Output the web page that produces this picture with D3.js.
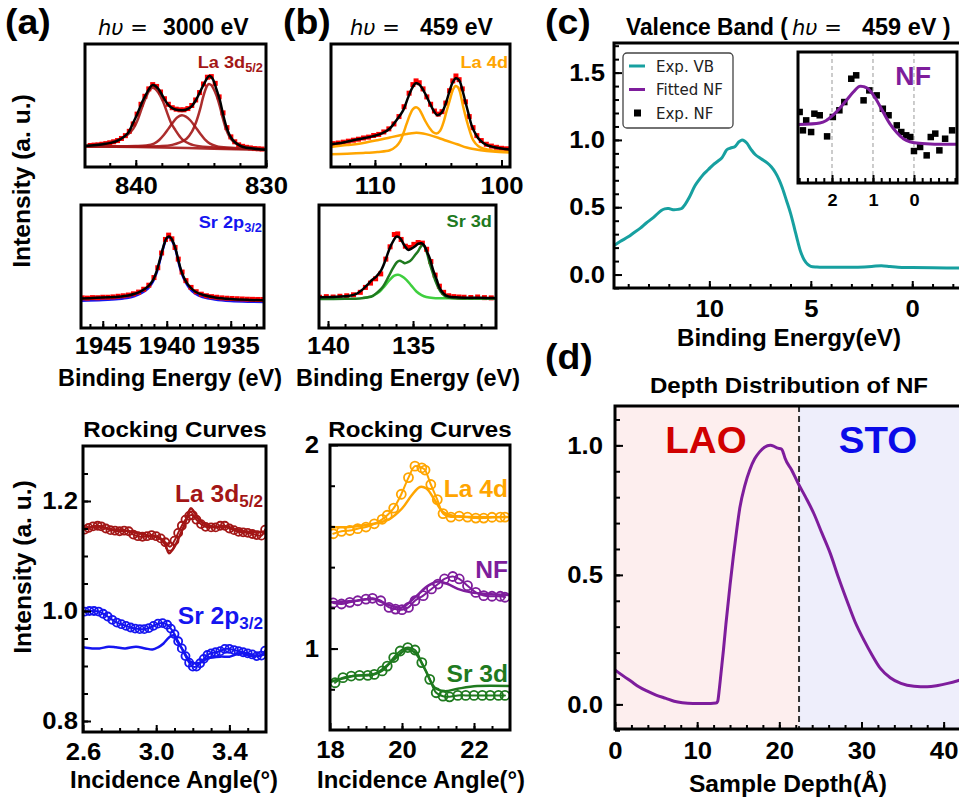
<!DOCTYPE html>
<html><head><meta charset="utf-8">
<script src="https://cdn.jsdelivr.net/npm/d3@7"></script>
<style>
body{margin:0;background:#fff}
svg{display:block}
text{font-family:"Liberation Sans",Arial,sans-serif;font-weight:bold}
</style>
</head><body>
<svg id="c" width="959" height="801"></svg>
<script>
// ---------------- DATA ----------------
// (a) La 3d5/2 (hv = 3000 eV): binding energy (eV), normalised intensity
const la3dExp = [[843.5,.175],[843.2,.178],[842.9,.18],[842.6,.185],[842.3,.19],[842.0,.197],[841.7,.205],[841.4,.215],[841.1,.232],[840.8,.255],[840.5,.29],[840.2,.35],[839.9,.43],[839.6,.51],[839.3,.575],[839.0,.635],[838.7,.67],[838.4,.655],[838.1,.61],[837.8,.555],[837.5,.51],[837.2,.482],[836.9,.47],[836.6,.465],[836.3,.465],[836.0,.475],[835.7,.5],[835.4,.545],[835.1,.605],[834.8,.675],[834.5,.73],[834.2,.735],[833.9,.68],[833.6,.57],[833.3,.44],[833.0,.32],[832.7,.245],[832.4,.205],[832.1,.18],[831.8,.168],[831.5,.16],[831.2,.155],[830.9,.15],[830.6,.148],[830.3,.146]];
const la3dFit = [[843.9,.17],[841.9,.196],[841.2,.225],[840.63,.272],[840.2,.36],[839.87,.435],[839.5,.53],[839.24,.584],[838.95,.64],[838.73,.666],[838.5,.66],[838.23,.63],[837.9,.57],[837.59,.516],[837.3,.485],[836.96,.467],[836.33,.462],[836.0,.472],[835.7,.495],[835.35,.55],[835.06,.611],[834.68,.693],[834.38,.739],[834.2,.732],[834.05,.707],[833.8,.63],[833.54,.543],[833.3,.43],[833.04,.326],[832.8,.26],[832.53,.217],[832.1,.18],[831.77,.163],[831,.15],[830,.141]];
const la3dBg = [[843.9,.168],[840,.162],[837,.157],[834,.148],[830,.14]];
const la3dPeakA = [[843.9,.172],[842.5,.19],[841.5,.215],[840.63,.262],[840.2,.31],[839.87,.38],[839.5,.49],[839.24,.56],[838.95,.625],[838.73,.645],[838.5,.635],[838.23,.6],[837.9,.53],[837.59,.44],[837.3,.36],[836.96,.3],[836.6,.245],[836.33,.215],[835.9,.19],[835.57,.178],[834.5,.162],[833,.152],[830,.143]];
const la3dPeakB = [[843.9,.168],[840,.17],[839.2,.175],[838.6,.19],[838.2,.22],[837.85,.26],[837.5,.31],[837.09,.37],[836.8,.405],[836.46,.421],[836.15,.41],[835.82,.38],[835.45,.33],[835.06,.272],[834.7,.225],[834.3,.19],[833.8,.17],[833,.158],[830,.145]];
const la3dPeakC = [[843.9,.166],[838,.17],[837.2,.18],[836.6,.2],[836.1,.23],[835.7,.285],[835.35,.37],[835.06,.47],[834.85,.56],[834.68,.62],[834.5,.665],[834.38,.675],[834.2,.665],[834.05,.64],[833.8,.58],[833.54,.49],[833.3,.39],[833.04,.3],[832.8,.245],[832.53,.208],[832.1,.18],[831.52,.163],[830.8,.152],[830,.145]];

// (a) Sr 2p3/2
const sr2pExp = [[1946.6,.245],[1946.2,.243],[1945.8,.247],[1945.4,.246],[1945.0,.25],[1944.6,.25],[1944.2,.253],[1943.8,.258],[1943.4,.262],[1943.0,.268],[1942.6,.278],[1942.2,.292],[1941.8,.315],[1941.4,.348],[1941.0,.41],[1940.7,.49],[1940.4,.61],[1940.1,.72],[1939.85,.755],[1939.6,.725],[1939.35,.655],[1939.1,.56],[1938.8,.455],[1938.5,.385],[1938.1,.33],[1937.7,.295],[1937.3,.275],[1936.9,.262],[1936.5,.255],[1936.1,.25],[1935.7,.245],[1935.3,.242],[1934.9,.24],[1934.5,.238],[1934.1,.236],[1933.7,.234],[1933.3,.233],[1932.9,.232],[1932.5,.232]];
const sr2pFit = [[1946.7,.24],[1945.5,.245],[1944.5,.25],[1943.78,.255],[1943,.265],[1942.5,.278],[1942,.3],[1941.45,.338],[1941.1,.385],[1940.8,.459],[1940.5,.57],[1940.26,.662],[1940.05,.725],[1939.87,.743],[1939.7,.735],[1939.56,.712],[1939.3,.64],[1939.1,.554],[1938.85,.46],[1938.57,.392],[1938.2,.335],[1937.79,.297],[1937.2,.27],[1936.23,.248],[1935,.235],[1933.5,.228],[1932.4,.225]];
const sr2pComp = [[1946.7,.222],[1945,.228],[1943.78,.236],[1943,.246],[1942.5,.26],[1942,.283],[1941.45,.323],[1941.1,.372],[1940.8,.447],[1940.5,.56],[1940.26,.655],[1940.05,.72],[1939.87,.738],[1939.7,.73],[1939.56,.706],[1939.3,.632],[1939.1,.545],[1938.85,.45],[1938.57,.38],[1938.2,.32],[1937.79,.28],[1937.2,.252],[1936.23,.232],[1935,.22],[1933.5,.214],[1932.4,.212]];

// (b) La 4d (hv = 459 eV)
const la4dExp = [[113.3,.19],[112.9,.195],[112.5,.202],[112.1,.21],[111.7,.218],[111.3,.226],[110.9,.236],[110.5,.243],[110.1,.256],[109.7,.265],[109.3,.285],[108.9,.31],[108.5,.35],[108.1,.41],[107.7,.49],[107.3,.6],[107.0,.67],[106.75,.7],[106.5,.685],[106.2,.635],[105.9,.57],[105.6,.51],[105.3,.455],[105.0,.43],[104.7,.45],[104.4,.52],[104.1,.62],[103.85,.7],[103.6,.74],[103.35,.71],[103.1,.635],[102.85,.53],[102.55,.41],[102.25,.32],[101.95,.255],[101.6,.215],[101.2,.185],[100.8,.17],[100.4,.16],[100.0,.152],[99.6,.148]];
const la4dFit = [[113.47,.185],[112.5,.2],[111.71,.218],[110.9,.233],[110.13,.251],[109.4,.275],[108.82,.313],[108.3,.38],[107.76,.463],[107.4,.56],[107.11,.632],[106.9,.67],[106.76,.681],[106.55,.675],[106.32,.649],[106.0,.59],[105.66,.518],[105.35,.455],[105.08,.422],[104.85,.43],[104.61,.463],[104.3,.55],[104.08,.627],[103.85,.69],[103.61,.722],[103.45,.715],[103.29,.695],[103.1,.63],[102.89,.545],[102.6,.43],[102.37,.341],[102.0,.26],[101.71,.218],[101.2,.18],[100.66,.163],[100,.15],[99.33,.142]];
const la4dBroad = [[113.47,.163],[112.2,.178],[110.92,.196],[109.8,.218],[108.82,.24],[108,.258],[107.5,.268],[107.1,.275],[106.71,.278],[106.2,.272],[105.66,.259],[105,.238],[104.34,.213],[103.5,.185],[102.76,.158],[102,.142],[101.18,.131],[100.2,.122],[99.33,.117]];
const la4dDoublet = [[113.47,.104],[112.2,.108],[110.92,.114],[109.8,.122],[108.82,.136],[108.3,.17],[108,.21],[107.76,.272],[107.5,.35],[107.24,.422],[107,.47],[106.76,.485],[106.55,.475],[106.32,.436],[106,.37],[105.66,.313],[105.4,.282],[105.13,.272],[104.85,.295],[104.61,.354],[104.35,.45],[104.08,.545],[103.85,.625],[103.63,.659],[103.45,.65],[103.29,.613],[103.05,.5],[102.76,.381],[102.5,.29],[102.24,.218],[101.85,.17],[101.45,.15],[100.5,.13],[99.33,.123]];

// (b) Sr 3d
const sr3dExp = [[140.5,.25],[140.1,.255],[139.7,.252],[139.3,.258],[138.9,.262],[138.5,.27],[138.1,.29],[137.8,.33],[137.5,.365],[137.2,.4],[136.9,.44],[136.6,.56],[136.35,.66],[136.1,.76],[135.9,.765],[135.7,.72],[135.45,.665],[135.2,.655],[134.95,.68],[134.7,.695],[134.45,.69],[134.2,.64],[133.95,.54],[133.7,.43],[133.45,.34],[133.2,.29],[132.9,.262],[132.6,.255],[132.3,.252],[132.0,.25],[131.6,.248],[131.2,.252],[130.8,.247],[130.4,.245]];
const sr3dFit = [[140.53,.251],[139.5,.255],[138.73,.262],[138.3,.28],[137.94,.316],[137.65,.355],[137.45,.386],[137.15,.42],[136.86,.473],[136.6,.56],[136.37,.649],[136.15,.71],[135.98,.743],[135.82,.738],[135.69,.716],[135.5,.67],[135.29,.635],[135.1,.645],[134.9,.662],[134.7,.685],[134.51,.689],[134.35,.672],[134.22,.635],[134,.56],[133.82,.473],[133.6,.39],[133.43,.324],[133.2,.28],[132.94,.257],[132.3,.248],[131,.245],[130.12,.243]];
const sr3dDark = [[140.53,.235],[139,.237],[138.14,.24],[137.7,.248],[137.35,.262],[137.05,.295],[136.76,.338],[136.45,.415],[136.18,.486],[135.95,.535],[135.78,.546],[135.6,.535],[135.49,.527],[135.3,.535],[135.1,.554],[134.9,.59],[134.71,.622],[134.55,.66],[134.41,.676],[134.25,.64],[134.02,.527],[133.82,.44],[133.63,.365],[133.35,.29],[133.04,.251],[132.5,.242],[131,.24],[130.12,.24]];
const sr3dLight = [[137.9,.245],[137.5,.255],[137.2,.275],[136.96,.297],[136.65,.345],[136.37,.392],[136.1,.425],[135.88,.432],[135.65,.42],[135.39,.392],[135.1,.345],[134.8,.297],[134.5,.268],[134.22,.252],[133.82,.244],[133.3,.242],[132.5,.241],[131,.24],[130.12,.24]];

// Rocking curves (hv = 3000 eV): incidence angle (deg), intensity (a.u.)
const rcLa3dExp = [[2.61,1.148],[2.63,1.151],[2.655,1.154],[2.68,1.155],[2.70,1.154],[2.725,1.15],[2.75,1.147],[2.775,1.146],[2.80,1.145],[2.825,1.146],[2.85,1.145],[2.875,1.139],[2.90,1.136],[2.925,1.135],[2.95,1.136],[2.975,1.138],[3.0,1.136],[3.025,1.132],[3.05,1.125],[3.075,1.117],[3.10,1.128],[3.12,1.142],[3.14,1.155],[3.16,1.166],[3.18,1.173],[3.20,1.174],[3.22,1.166],[3.245,1.158],[3.27,1.153],[3.30,1.152],[3.325,1.152],[3.35,1.155],[3.375,1.155],[3.40,1.150],[3.425,1.147],[3.45,1.144],[3.475,1.143],[3.50,1.142],[3.525,1.14],[3.55,1.138],[3.575,1.137],[3.595,1.148]];
const rcLa3dFit = [[2.6,1.15],[2.69,1.153],[2.76,1.148],[2.84,1.146],[2.947,1.138],[3.02,1.132],[3.05,1.12],[3.07,1.105],[3.09,1.112],[3.11,1.123],[3.135,1.142],[3.158,1.159],[3.175,1.178],[3.19,1.187],[3.21,1.178],[3.23,1.168],[3.276,1.156],[3.33,1.153],[3.386,1.153],[3.44,1.148],[3.496,1.144],[3.6,1.144]];
const rcSr2pExp = [[2.61,.999],[2.635,1.0],[2.66,1.0],[2.685,.999],[2.71,.995],[2.735,.99],[2.76,.984],[2.785,.979],[2.81,.976],[2.835,.973],[2.86,.970],[2.885,.968],[2.91,.967],[2.935,.967],[2.96,.969],[2.985,.973],[3.01,.977],[3.035,.978],[3.06,.975],[3.08,.968],[3.10,.958],[3.12,.945],[3.14,.932],[3.16,.918],[3.18,.906],[3.20,.899],[3.22,.899],[3.24,.905],[3.26,.913],[3.28,.92],[3.30,.923],[3.325,.925],[3.35,.927],[3.375,.931],[3.40,.931],[3.425,.929],[3.45,.927],[3.475,.925],[3.50,.923],[3.525,.921],[3.55,.918],[3.575,.919],[3.595,.928]];
const rcSr2pFit = [[2.6,.934],[2.65,.932],[2.69,.932],[2.74,.935],[2.78,.934],[2.83,.932],[2.89,.935],[2.94,.932],[2.98,.930],[3.01,.934],[3.04,.941],[3.07,.952],[3.094,.956],[3.115,.945],[3.14,.932],[3.165,.918],[3.185,.908],[3.21,.905],[3.23,.905],[3.26,.91],[3.283,.914],[3.35,.917],[3.40,.917],[3.46,.923],[3.53,.918],[3.6,.922]];

// Rocking curves (hv = 459 eV)
const rcLa4dExp = [[18.09,1.564],[18.32,1.576],[18.55,1.58],[18.77,1.589],[19.0,1.597],[19.23,1.613],[19.45,1.635],[19.59,1.655],[19.77,1.69],[19.98,1.758],[20.18,1.84],[20.36,1.896],[20.55,1.888],[20.64,1.877],[20.8,1.806],[20.98,1.732],[21.14,1.663],[21.36,1.646],[21.59,1.651],[21.82,1.646],[22.05,1.641],[22.27,1.641],[22.5,1.645],[22.73,1.646],[22.86,1.646]];
const rcLa4dFit = [[18.0,1.597],[18.55,1.597],[19.09,1.609],[19.64,1.635],[20.0,1.688],[20.27,1.753],[20.5,1.794],[20.68,1.786],[20.91,1.729],[21.14,1.671],[21.45,1.651],[22.0,1.646],[23.0,1.646]];
const rcNfExp = [[18.09,1.224],[18.32,1.219],[18.55,1.227],[18.77,1.235],[19.0,1.243],[19.18,1.247],[19.41,1.235],[19.64,1.202],[19.82,1.194],[20.0,1.191],[20.18,1.202],[20.36,1.235],[20.59,1.26],[20.82,1.293],[21.0,1.317],[21.18,1.342],[21.41,1.354],[21.59,1.342],[21.82,1.309],[22.05,1.276],[22.27,1.26],[22.5,1.257],[22.73,1.257],[22.86,1.252]];
const rcNfFit = [[18.0,1.227],[18.73,1.235],[19.18,1.243],[19.64,1.214],[20.0,1.202],[20.36,1.252],[20.73,1.309],[21.0,1.329],[21.27,1.317],[21.55,1.293],[21.91,1.276],[22.36,1.268],[23.0,1.263]];
const rcSr3dExp = [[18.14,.832],[18.36,.857],[18.59,.865],[18.82,.868],[19.05,.868],[19.23,.873],[19.45,.89],[19.59,.914],[19.77,.956],[19.95,.988],[20.16,1.005],[20.36,.993],[20.55,.931],[20.77,.849],[20.95,.783],[21.14,.766],[21.32,.763],[21.55,.77],[21.77,.77],[22.0,.77],[22.23,.77],[22.45,.77],[22.68,.77],[22.86,.77]];
const rcSr3dFit = [[18.0,.836],[18.64,.865],[19.27,.878],[19.73,.939],[20.14,.997],[20.36,.98],[20.64,.898],[20.91,.808],[21.18,.791],[21.55,.803],[22.09,.816],[23.0,.816]];

// (c) valence band: binding energy (eV), intensity
const vbExp = [[14.7,.215],[14.4,.245],[14.0,.28],[13.77,.305],[13.4,.345],[13.11,.383],[12.75,.425],[12.37,.476],[12.2,.488],[12.0,.49],[11.79,.482],[11.55,.484],[11.37,.49],[11.2,.52],[11.0,.57],[10.71,.659],[10.5,.705],[10.3,.744],[10.05,.78],[9.8,.817],[9.6,.84],[9.39,.866],[9.25,.9],[9.14,.927],[8.95,.94],[8.73,.951],[8.55,.985],[8.39,1.0],[8.25,.99],[8.15,.976],[7.95,.93],[7.73,.89],[7.45,.86],[7.15,.829],[6.95,.8],[6.74,.756],[6.55,.7],[6.41,.646],[6.2,.55],[5.99,.451],[5.8,.34],[5.66,.256],[5.5,.17],[5.33,.11],[5.15,.075],[5.0,.061],[4.7,.056],[4.34,.054],[3.5,.054],[2.68,.055],[2.0,.06],[1.52,.066],[1.1,.06],[0.7,.054],[0,.052],[-1,.05],[-2.6,.049]];
// (c) inset: near-Fermi (NF) state
const nfExp = [[2.79,.542],[2.71,.402],[2.63,.478],[2.51,.389],[2.43,.529],[2.30,.517],[2.12,.356],[1.98,.504],[1.82,.555],[1.70,.618],[1.53,.796],[1.41,.822],[1.23,.631],[1.09,.707],[0.91,.669],[0.76,.567],[0.62,.517],[0.42,.440],[0.31,.389],[0.19,.364],[0.09,.351],[0.00,.244],[-0.15,.275],[-0.31,.211],[-0.41,.351],[-0.52,.377],[-0.62,.249],[-0.76,.338],[-0.93,.402]];
const nfFit = [[2.83,.447],[2.3,.458],[2.15,.475],[1.98,.517],[1.8,.575],[1.65,.631],[1.48,.695],[1.33,.738],[1.22,.735],[1.12,.72],[1.0,.675],[0.91,.631],[0.75,.54],[0.59,.453],[0.42,.385],[0.26,.338],[0.1,.315],[-0.07,.305],[-0.4,.298],[-1.05,.295]];

// (d) depth distribution of NF: depth (Angstrom), normalised weight
const depthNF = [[0,.133],[1,.11],[2,.088],[2.9,.068],[4,.05],[5,.036],[6.2,.023],[7.2,.012],[8.2,.006],[9.5,.003],[11,.003],[12.3,.005],[12.5,.012],[12.7,.06],[12.9,.12],[13.2,.21],[13.5,.31],[14,.46],[14.4,.57],[14.8,.67],[15.2,.76],[15.8,.845],[16.4,.905],[17,.948],[17.6,.975],[18.2,.993],[18.9,1.0],[19.3,.997],[19.7,.99],[20.3,.985],[20.5,.97],[20.7,.95],[21.5,.905],[22.3,.853],[23.2,.8],[24.2,.737],[25.2,.66],[26.2,.583],[27.2,.49],[28.2,.403],[29.2,.32],[30.3,.248],[31.3,.19],[32.3,.139],[33.5,.103],[34.8,.081],[36.4,.07],[38,.068],[39.3,.073],[40.5,.081],[42.6,.1]];
const layers = [{name:"LAO", from:0, to:22.4}, {name:"STO", from:22.4, to:42.6}];

// tick labels
const la3dTicks=[840,830], sr2pTicks=[1945,1940,1935], la4dTicks=[110,100], sr3dTicks=[140,135];
const rcLeftXTicks=[2.6,3.0,3.4], rcLeftYTicks=[0.8,1.0,1.2];
const rcRightXTicks=[18,20,22], rcRightYTicks=[1,2];
const vbXTicks=[10,5,0], vbYTicks=[0.0,0.5,1.0,1.5], insetXTicks=[2,1,0];
const depthXTicks=[0,10,20,30,40], depthYTicks=[0.0,0.5,1.0];

// ---------------- DRAWING ----------------
const SX = 1.07; // horizontal stretch of the original figure's lettering
const svg = d3.select("#c");
const C = {red:"#ff0000", dred:"#a31616", blue:"#1515f0", orange:"#ffa500", green:"#1f7a1f", lgreen:"#3fcf3f",
  purple:"#7e1d9c", teal:"#17a0a0", lao:"#d00000", sto:"#0a0ae8"};
let clipN = 0;
function panel(x0,x1,y0,y1,xdom,ydom){
  const x=d3.scaleLinear().domain(xdom).range([x0,x1]);
  const y=d3.scaleLinear().domain(ydom).range([y1,y0]);
  const id="clip"+(clipN++);
  svg.append("clipPath").attr("id",id).append("rect").attr("x",x0).attr("y",y0).attr("width",x1-x0).attr("height",y1-y0);
  const g=svg.append("g");
  const bg=g.append("g");
  const plot=g.append("g").attr("clip-path",`url(#${id})`);
  return {x,y,g,bg,plot,x0,x1,y0,y1};
}
function frame(p,sw=3){
  p.g.append("rect").attr("x",p.x0).attr("y",p.y0).attr("width",p.x1-p.x0).attr("height",p.y1-p.y0)
   .attr("fill","none").attr("stroke","#000").attr("stroke-width",sw);
}
function styleAxis(s,fs){
  s.select(".domain").remove();
  s.attr("font-family",null).attr("font-size",null);
  s.selectAll("line").attr("stroke","#000").attr("stroke-width",2);
  s.selectAll("text").attr("fill","#000").style("font-size",fs+"px").each(function(){
    const t=d3.select(this); const xx=+t.attr("x")||0;
    t.attr("transform",`translate(${xx},0) scale(${SX},1) translate(${-xx},0)`);
  });
}
function xTicks(p,major,minor,o={}){
  const fs=o.fs||24, pad=o.pad||9, fmt=o.fmt||d3.format("d");
  if(minor) p.g.append("g").attr("transform",`translate(0,${p.y1})`)
    .call(d3.axisBottom(p.x).tickValues(minor).tickSize(-(o.minLen||4)).tickFormat("")).call(s=>styleAxis(s,fs));
  p.g.append("g").attr("transform",`translate(0,${p.y1})`)
    .call(d3.axisBottom(p.x).tickValues(major).tickSize(-(o.majLen||7)).tickPadding(pad).tickFormat(fmt)).call(s=>styleAxis(s,fs));
}
function yTicks(p,major,minor,o={}){
  const fs=o.fs||24, pad=o.pad||9, fmt=o.fmt||d3.format(".1f");
  if(minor) p.g.append("g").attr("transform",`translate(${p.x0},0)`)
    .call(d3.axisLeft(p.y).tickValues(minor).tickSize(-(o.minLen||5)).tickFormat("")).call(s=>styleAxis(s,fs));
  p.g.append("g").attr("transform",`translate(${p.x0},0)`)
    .call(d3.axisLeft(p.y).tickValues(major).tickSize(-(o.majLen||8)).tickPadding(pad).tickFormat(fmt)).call(s=>styleAxis(s,fs));
}
function line(p,data,color,w,curve){
  const gen=d3.line().x(d=>p.x(d[0])).y(d=>p.y(d[1])).curve(curve||d3.curveCatmullRom.alpha(0.5));
  return p.plot.append("path").attr("d",gen(data)).attr("fill","none").attr("stroke",color).attr("stroke-width",w)
    .attr("stroke-linejoin","round").attr("stroke-linecap","round");
}
function squares(p,data,color,s){
  p.plot.append("g").selectAll("rect").data(data).join("rect")
   .attr("x",d=>p.x(d[0])-s/2).attr("y",d=>p.y(d[1])-s/2).attr("width",s).attr("height",s).attr("fill",color);
}
function circles(p,data,color,r,sw){
  p.plot.append("g").selectAll("circle").data(data).join("circle")
   .attr("cx",d=>p.x(d[0])).attr("cy",d=>p.y(d[1])).attr("r",r).attr("fill","none").attr("stroke",color).attr("stroke-width",sw);
}
function txt(x,y,s,o={}){
  const t=svg.append("text").attr("x",x).attr("y",y).text(s)
    .style("font-size",(o.fs||24)+"px").attr("fill",o.color||"#000").attr("text-anchor",o.anchor||"start");
  if(o.family) t.style("font-family",o.family);
  if(o.weight) t.style("font-weight",o.weight);
  if(o.style) t.style("font-style",o.style);
  const sx=o.sx||SX;
  t.attr("transform",`translate(${x},${y}) rotate(${o.rotate||0}) scale(${sx},1) translate(${-x},${-y})`);
  return t;
}
function subTxt(x,y,main,sub,o){
  const t=txt(x,y,main,o); t.text(null);
  t.append("tspan").text(main);
  t.append("tspan").text(sub).style("font-size",(o.subfs)+"px").attr("dy",o.subdy);
  return t;
}
const rng=(a,b,s)=>d3.range(a,b+s/2,s);

// ---- (a) La 3d ----
const pA1=panel(85,266,44,167,[843.9,830],[0,1]);
squares(pA1,la3dExp,C.red,5);
[la3dBg,la3dPeakA,la3dPeakB,la3dPeakC].forEach(d=>line(pA1,d,C.dred,2.5).attr("opacity",0.9));
line(pA1,la3dFit,"#000",2.5);
frame(pA1);
xTicks(pA1,la3dTicks,rng(830,842,2),{pad:10});
subTxt(263,68,"La 3d","5/2",{fs:17,subfs:12,subdy:4,color:C.dred,anchor:"end"});

// ---- (a) Sr 2p ----
const pA2=panel(81,264,205,328,[1946.7,1932.4],[0,1]);
line(pA2,sr2pComp,C.blue,2.5);
squares(pA2,sr2pExp,C.red,5);
line(pA2,sr2pFit,"#000",2.5);
frame(pA2);
xTicks(pA2,sr2pTicks,rng(1933,1946,1),{pad:9});
subTxt(262,228,"Sr 2p","3/2",{fs:17,subfs:12,subdy:4,color:C.blue,anchor:"end"});

// ---- (b) La 4d ----
const pB1=panel(331,510,44,167,[113.47,99.33],[0,1]);
squares(pB1,la4dExp,C.red,5);
line(pB1,la4dBroad,C.orange,2.5);
line(pB1,la4dDoublet,C.orange,2.5);
line(pB1,la4dFit,"#000",2.5);
frame(pB1);
xTicks(pB1,la4dTicks,rng(100,112,2),{pad:10});
txt(508,68,"La 4d",{fs:17,color:C.orange,anchor:"end"});

// ---- (b) Sr 3d ----
const pB2=panel(319,496,205,328,[140.53,130.12],[0,1]);
squares(pB2,sr3dExp,C.red,5);
line(pB2,sr3dLight,C.lgreen,2.5);
line(pB2,sr3dDark,C.green,2.5);
line(pB2,sr3dFit,"#000",2.5);
frame(pB2);
xTicks(pB2,sr3dTicks,rng(131,140,1),{pad:9});
txt(492,227,"Sr 3d",{fs:17,color:C.green,anchor:"end"});

// ---- Rocking curves left ----
const pR1=panel(83,266,446,732,[2.6,3.6],[0.78,1.3]);
line(pR1,rcLa3dExp,C.dred,2);
circles(pR1,rcLa3dExp,C.dred,4,1.8);
line(pR1,rcLa3dFit,C.dred,2.5);
line(pR1,rcSr2pExp,C.blue,2);
circles(pR1,rcSr2pExp,C.blue,4,1.8);
line(pR1,rcSr2pFit,C.blue,2.5);
frame(pR1);
xTicks(pR1,rcLeftXTicks,rng(2.7,3.5,0.1),{pad:11,fmt:d3.format(".1f")});
yTicks(pR1,rcLeftYTicks,rng(0.8,1.25,0.05),{pad:5,fmt:d3.format(".1f")});
subTxt(263,502,"La 3d","5/2",{fs:23,subfs:16,subdy:5,color:C.dred,anchor:"end"});
subTxt(263,624,"Sr 2p","3/2",{fs:23,subfs:16,subdy:5,color:C.blue,anchor:"end"});

// ---- Rocking curves right ----
const pR2=panel(330,510,445,730,[18,23],[0.6,2.0]);
[[rcLa4dExp,rcLa4dFit,C.orange],[rcNfExp,rcNfFit,C.purple],[rcSr3dExp,rcSr3dFit,C.green]].forEach(([e,f,c])=>{
  line(pR2,e,c,2); circles(pR2,e,c,4.5,1.8); line(pR2,f,c,2.5);
});
frame(pR2);
xTicks(pR2,rcRightXTicks,rng(18.5,22.5,0.5),{pad:11});
yTicks(pR2,rcRightYTicks,rng(0.8,1.8,0.2),{pad:11,fmt:d3.format("d")});
txt(508,497,"La 4d",{fs:23,color:C.orange,anchor:"end"});
txt(508,578,"NF",{fs:23,color:C.purple,anchor:"end"});
txt(508,682,"Sr 3d",{fs:23,color:C.green,anchor:"end"});

// ---- (c) Valence band ----
const pC=panel(614,965,43,288,[14.7,-2.6],[-0.1,1.72]);
line(pC,vbExp,C.teal,3);
frame(pC);
xTicks(pC,vbXTicks,rng(-2,14,1),{pad:12});
yTicks(pC,vbYTicks,rng(-0.1,1.7,0.1),{pad:9});
// legend
const lg=svg.append("g");
lg.append("rect").attr("x",623).attr("y",53).attr("width",110).attr("height",75).attr("rx",4)
  .attr("fill","#fff").attr("stroke","#444").attr("stroke-width",1.3);
const legItems=[{label:"Exp. VB",color:C.teal,type:"line"},{label:"Fitted NF",color:C.purple,type:"line"},{label:"Exp. NF",color:"#000",type:"sq"}];
legItems.forEach((d,i)=>{
  const yy=66+i*23.5;
  if(d.type==="line") lg.append("line").attr("x1",629).attr("x2",645).attr("y1",yy).attr("y2",yy).attr("stroke",d.color).attr("stroke-width",3);
  else lg.append("rect").attr("x",634).attr("y",yy-3.5).attr("width",7).attr("height",7).attr("fill",d.color);
  lg.append("text").attr("x",656).attr("y",yy+5.5).text(d.label).style("font-family","'DejaVu Sans',sans-serif")
    .style("font-weight","normal").style("font-size","15px").attr("fill","#222");
});
// inset
const pI=panel(798,957,52,183,[2.83,-1.05],[0,1]);
pI.bg.append("rect").attr("x",798).attr("y",52).attr("width",159).attr("height",131).attr("fill","#fff");
insetXTicks.forEach(v=>pI.plot.append("line").attr("x1",pI.x(v)).attr("x2",pI.x(v)).attr("y1",52).attr("y2",183)
  .attr("stroke","#999").attr("stroke-width",1).attr("stroke-dasharray","4,3"));
squares(pI,nfExp,"#000",6.5);
line(pI,nfFit,C.purple,3);
frame(pI);
xTicks(pI,insetXTicks,rng(-1,2.8,0.2),{fs:17,pad:11,majLen:8,minLen:5});
txt(931,85,"NF",{fs:25,color:C.purple,anchor:"end"});

// ---- (d) Depth distribution ----
const pD=panel(615,965,406,729,[0,42.6],[-0.095,1.152]);
const layerColor={LAO:"#fdeeee",STO:"#eeeefb"};
pD.plot.selectAll("rect.layer").data(layers).join("rect").attr("class","layer")
  .attr("x",d=>pD.x(d.from)).attr("width",d=>pD.x(d.to)-pD.x(d.from)).attr("y",406).attr("height",323)
  .attr("fill",d=>layerColor[d.name]);
pD.plot.append("line").attr("x1",pD.x(layers[1].from)).attr("x2",pD.x(layers[1].from)).attr("y1",406).attr("y2",729)
  .attr("stroke","#333").attr("stroke-width",2).attr("stroke-dasharray","6,4");
line(pD,depthNF,C.purple,3,d3.curveMonotoneX);
frame(pD);
xTicks(pD,depthXTicks,rng(2,42,2),{pad:13});
yTicks(pD,depthYTicks,rng(-0.1,1.1,0.1),{pad:12});
txt(706,453,"LAO",{fs:36,color:C.lao,anchor:"middle"});
txt(878,453,"STO",{fs:36,color:C.sto,anchor:"middle"});

// ---- titles & labels ----
txt(5,34,"(a)",{fs:35});
txt(283,34,"(b)",{fs:35});
txt(545,34,"(c)",{fs:35});
txt(545,369,"(d)",{fs:35});
const ital={fs:21,family:"'DejaVu Sans',sans-serif",weight:"normal",style:"italic",sx:1};
txt(98,35,"hυ =",ital);
txt(163,35,"3000 eV",{fs:23,sx:1});
txt(350,35,"hυ =",ital);
txt(420,35,"459 eV",{fs:23,sx:1});
txt(626,35,"Valence Band (",{fs:23,sx:0.99});
txt(792,35,"hυ =",ital);
txt(862,35,"459 eV )",{fs:23,sx:1.02});
txt(175,437,"Rocking Curves",{fs:22.5,anchor:"middle"});
txt(420,437,"Rocking Curves",{fs:22.5,anchor:"middle"});
txt(789,393,"Depth Distribution of NF",{fs:22.5,anchor:"middle"});
txt(170,386,"Binding Energy (eV)",{fs:23,anchor:"middle",sx:1.02});
txt(408,386,"Binding Energy (eV)",{fs:23,anchor:"middle",sx:1.02});
txt(174,788,"Incidence Angle(°)",{fs:23,anchor:"middle",sx:1.04});
txt(421,788,"Incidence Angle(°)",{fs:23,anchor:"middle",sx:1.04});
txt(789,346,"Binding Energy(eV)",{fs:23,anchor:"middle",sx:1.05});
txt(788,792,"Sample Depth(Å)",{fs:23,anchor:"middle"});
txt(30,181,"Intensity (a. u.)",{fs:23,anchor:"middle",rotate:-90});
txt(31,567,"Intensity (a. u.)",{fs:23,anchor:"middle",rotate:-90});
</script>
</body></html>
